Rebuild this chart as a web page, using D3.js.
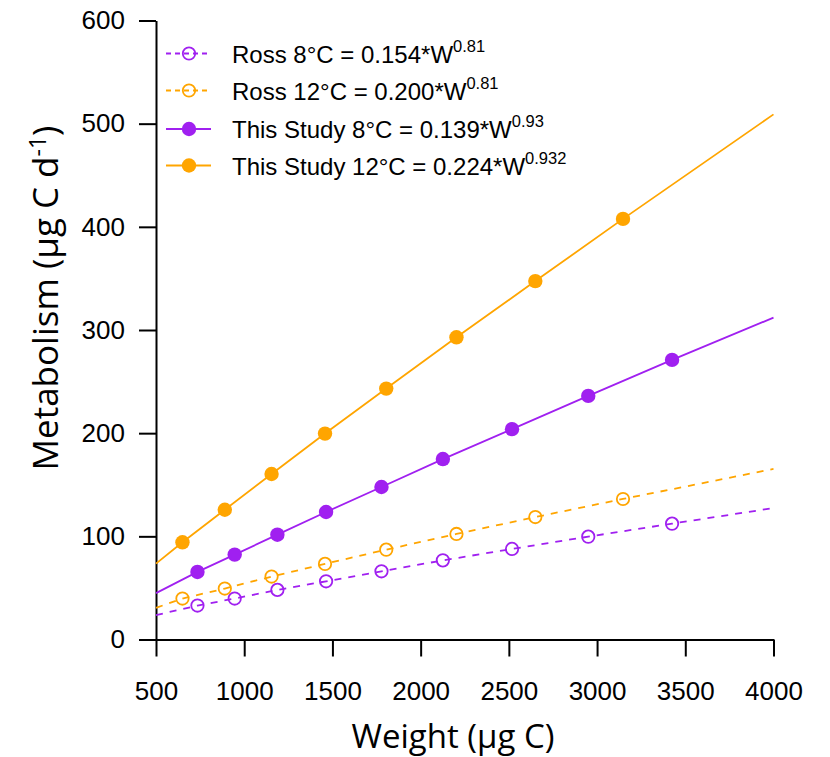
<!DOCTYPE html>
<html>
<head>
<meta charset="utf-8">
<script src="https://cdn.jsdelivr.net/npm/d3@7"></script>
<style>
  html, body { margin: 0; padding: 0; background: #fff; }
  svg { display: block; }
  .tick text { font-family: "Liberation Sans", Arial, sans-serif; font-size: 26px; fill: #000; }
  .axis path, .axis line { stroke: #000; stroke-width: 2; }
  .title { font-family: "Open Sans", sans-serif; fill: #000; }
  .legend text { font-family: "Liberation Sans", Arial, sans-serif; font-size: 24px; fill: #000; }
</style>
</head>
<body>
<svg id="chart" width="830" height="757"></svg>
<script>
// Body weight (µg C) at which each group was measured
const weights12 = [650, 890, 1155, 1458, 1805, 2203, 2650, 3147];
const weights8  = [735, 946, 1188, 1464, 1778, 2126, 2518, 2950, 3425];

// Metabolism (µg C d-1) at those weights
const studyMet12 = [94.2, 125.8, 160.4, 199.6, 243.2, 292.9, 347.4, 407.7];
const studyMet8  = [65.5, 82.3, 101.6, 123.6, 147.8, 174.9, 203.9, 236.1, 271.0];
const rossMet12  = [39.7, 49.4, 61.0, 73.3, 87.1, 102.3, 118.7, 136.2];
const rossMet8   = [32.9, 39.7, 48.1, 56.4, 66.1, 76.7, 87.8, 99.7, 112.3];

// Fitted lines across the full weight range: values at both ends
const lineEnds    = [500, 4000];
const studyEnds12 = [73.5, 509.0];
const studyEnds8  = [45.0, 312.0];
const rossEnds12  = [30.7, 165.3];
const rossEnds8   = [23.6, 127.4];

// Axis ticks
const xTicks = [500, 1000, 1500, 2000, 2500, 3000, 3500, 4000];
const yTicks = [0, 100, 200, 300, 400, 500, 600];

const PURPLE = "#A020F0";
const ORANGE = "#FFA500";

const series = [
  { name: "Ross 8°C = 0.154*W", exp: "0.81",  x: weights8,  y: rossMet8,   ends: rossEnds8,   color: PURPLE, dashed: true },
  { name: "Ross 12°C = 0.200*W", exp: "0.81", x: weights12, y: rossMet12,  ends: rossEnds12,  color: ORANGE, dashed: true },
  { name: "This Study 8°C = 0.139*W", exp: "0.93",   x: weights8,  y: studyMet8,  ends: studyEnds8,  color: PURPLE, dashed: false },
  { name: "This Study 12°C = 0.224*W", exp: "0.932", x: weights12, y: studyMet12, ends: studyEnds12, color: ORANGE, dashed: false }
];

const svg = d3.select("#chart");

const x = d3.scaleLinear().domain([500, 4000]).range([156, 773.5]);
const y = d3.scaleLinear().domain([0, 600]).range([639.5, 20.5]);

// Axes
svg.append("g")
  .attr("class", "axis")
  .attr("transform", `translate(0,${y(0)})`)
  .call(d3.axisBottom(x).tickValues(xTicks).tickSizeInner(17).tickSizeOuter(0).tickPadding(25).tickFormat(d3.format("d")));

svg.append("g")
  .attr("class", "axis")
  .attr("transform", `translate(${x(500)},0)`)
  .call(d3.axisLeft(y).tickValues(yTicks).tickSizeInner(17).tickSizeOuter(0).tickPadding(14).tickFormat(d3.format("d")));

svg.selectAll(".axis").attr("font-family", null).attr("font-size", null);

// Axis titles
svg.append("text")
  .attr("class", "title")
  .attr("font-size", "33px")
  .attr("x", 453).attr("y", 748)
  .attr("text-anchor", "middle")
  .text("Weight (µg C)");

const yTitle = svg.append("text")
  .attr("class", "title")
  .attr("font-size", "35px")
  .attr("transform", "translate(58,298) rotate(-90)")
  .attr("text-anchor", "middle");
yTitle.append("tspan").text("Metabolism (µg C d");
yTitle.append("tspan").attr("dy", -12).attr("font-size", "23px").text("-1");
yTitle.append("tspan").attr("dy", 12).text(")");

// Lines and points
const line = d3.line().x(d => x(d[0])).y(d => y(d[1]));

series.forEach(s => {
  const pts = [[lineEnds[0], s.ends[0]]]
    .concat(s.x.map((w, i) => [w, s.y[i]]))
    .concat([[lineEnds[1], s.ends[1]]]);

  svg.append("path")
    .datum(pts)
    .attr("d", line)
    .attr("fill", "none")
    .attr("stroke", s.color)
    .attr("stroke-width", 1.8)
    .attr("stroke-dasharray", s.dashed ? "7,7" : null);

  svg.append("g")
    .selectAll("circle")
    .data(s.x.map((w, i) => [w, s.y[i]]))
    .join("circle")
    .attr("cx", d => x(d[0]))
    .attr("cy", d => y(d[1]))
    .attr("r", s.dashed ? 6.2 : 7.2)
    .attr("fill", s.dashed ? "none" : s.color)
    .attr("stroke", s.dashed ? s.color : "none")
    .attr("stroke-width", 1.8);
});

// Legend
const legendRows = [53.5, 90.5, 129, 165.5];
const legend = svg.append("g").attr("class", "legend");
series.forEach((s, i) => {
  const row = legend.append("g").attr("transform", `translate(0,${legendRows[i]})`);
  row.append("line")
    .attr("x1", 166).attr("x2", 211)
    .attr("y1", 0).attr("y2", 0)
    .attr("stroke", s.color)
    .attr("stroke-width", 1.8)
    .attr("stroke-dasharray", s.dashed ? "5,4" : null);
  row.append("circle")
    .attr("cx", 189).attr("cy", 0)
    .attr("r", s.dashed ? 6.2 : 7.2)
    .attr("fill", s.dashed ? "none" : s.color)
    .attr("stroke", s.dashed ? s.color : "none")
    .attr("stroke-width", 1.8);
  const t = row.append("text").attr("x", 232).attr("y", 9);
  t.append("tspan").text(s.name);
  t.append("tspan").attr("dy", -11).attr("font-size", "16.5px").text(s.exp);
});
</script>
</body>
</html>
